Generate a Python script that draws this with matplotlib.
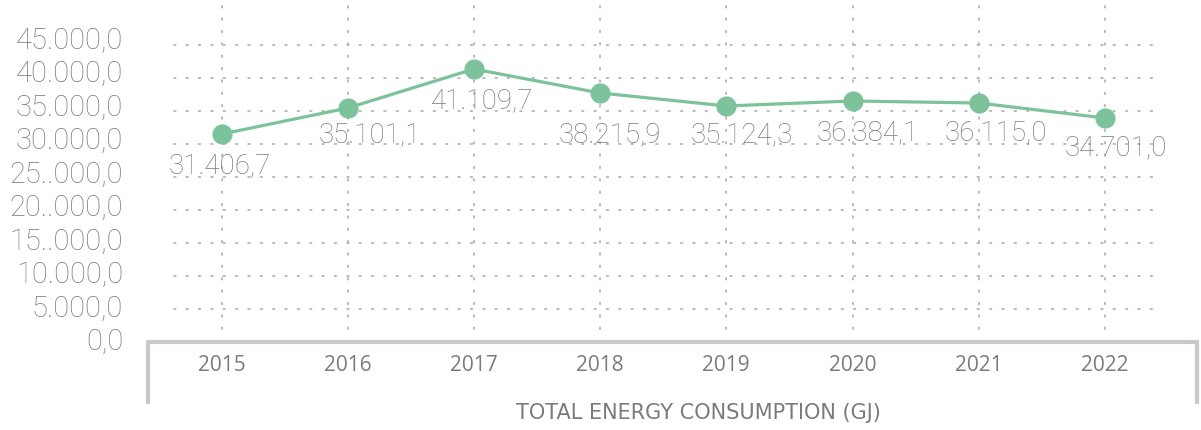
import matplotlib
matplotlib.use("Agg")
import matplotlib.pyplot as plt

# ---- data ----
years = ["2015", "2016", "2017", "2018", "2019", "2020", "2021", "2022"]
# values as drawn by the markers in the picture
values = [31500, 35450, 41360, 37730, 35760, 36520, 36210, 33940]
# value labels as printed in the picture
value_labels = ["31.406,7", "35.101,1", "41.109,7", "38.215,9", "35.124,3",
                "36.384,1", "36.115,0", "34.701,0"]
ytick_values = [0, 5000, 10000, 15000, 20000, 25000, 30000, 35000, 40000, 45000]
ytick_labels = ["0,0", "5.000,0", "10.000,0", "15..000,0", "20..000,0",
                "25..000,0", "30.000,0", "35.000,0", "40.000,0", "45.000,0"]
grid_values = [5000, 10000, 15000, 20000, 25000, 30000, 35000, 40000, 45000]
title = "TOTAL ENERGY CONSUMPTION (GJ)"

# ---- style ----
W, H = 1201, 431
DPI = 100
GREEN = "#7cc29b"
TEXT = "#7b7b7b"
GRID = "#b4b4b4"
FRAME = "#cbc8c8"
LABEL_FONT = ["Roboto", "DejaVu Sans"]
LABEL_WEIGHT = "light"

# label offsets (pixels) relative to each point
label_dx = [-1.5, 22, 8, 10, 15, 15.5, 17, 11]
label_dy = [-38, -33, -38, -48, -35, -38, -36, -36]

fig = plt.figure(figsize=(W / DPI, H / DPI), dpi=DPI)

# main axes: px x 146..1199, y 0..343 (from top)
left_px, right_px, top_px, bottom_px = 146, 1199, 0, 343
ax = fig.add_axes([left_px / W, 1 - bottom_px / H,
                   (right_px - left_px) / W, (bottom_px - top_px) / H])
step = 126.2
xmin = -(221.5 - left_px) / step
xmax = xmin + (right_px - left_px) / step
ymax = 45000 * (bottom_px - top_px) / 297.0
ax.set_xlim(xmin, xmax)
ax.set_ylim(0, ymax)
for s in ax.spines.values():
    s.set_visible(False)
ax.set_yticks([])

# dotted grid
lw = 1.3
dash = (0.9, 8.9 / lw - 0.9)
gx0 = (174 - 221.5) / step
gx1 = (1160 - 221.5) / step
for g in grid_values:
    ax.plot([gx0, gx1], [g, g], color=GRID, lw=lw, dashes=dash,
            dash_capstyle="round", zorder=1)
vy0 = 45000 * (343 - 336) / 297.0
vy1 = 45000 * (343 - 7) / 297.0
for i in range(len(years)):
    ax.plot([i, i], [vy1, vy0], color=GRID, lw=lw, dashes=dash,
            dash_capstyle="round", zorder=1)

# frame
fy = -45000 * (403 - 343) / 297.0
ax.plot([xmin + 0.015, xmin + 0.015, xmax - 0.015, xmax - 0.015],
        [fy, 0, 0, fy], color=FRAME, lw=3, clip_on=False,
        solid_joinstyle="miter", zorder=2)

# line + markers
xs = list(range(len(years)))
ax.plot(xs, values, color=GREEN, lw=2.3, marker="o", markersize=14.5,
        markeredgewidth=0, zorder=3)

for i, (v, lab) in enumerate(zip(values, value_labels)):
    ax.annotate(lab, (i, v), xytext=(label_dx[i], label_dy[i]),
                textcoords="offset pixels", ha="center", va="baseline",
                fontsize=20, color=TEXT, family=LABEL_FONT,
                fontweight=LABEL_WEIGHT, zorder=4)

# x tick labels (years)
ax.set_xticks(xs)
ax.set_xticklabels(years, fontsize=15, color=TEXT, family=["Open Sans", "DejaVu Sans"])
ax.tick_params(axis="x", length=0, pad=9)

# y labels on their own scale
ay = fig.add_axes(ax.get_position())
ay.set_ylim(-598, 50680)
ay.set_xlim(0, 1)
ay.patch.set_visible(False)
for s in ay.spines.values():
    s.set_visible(False)
ay.set_xticks([])
ay.set_yticks(ytick_values)
ay.set_yticklabels(ytick_labels, fontsize=21, color=TEXT, family=LABEL_FONT,
                   fontweight=LABEL_WEIGHT)
ay.tick_params(axis="y", length=0, pad=16.5)

fig.text(698 / W, 1 - 413 / H, title, ha="center", va="center",
         fontsize=15, color=TEXT,
         family=["Liberation Sans Narrow", "DejaVu Sans"])

fig.savefig("out.png", dpi=DPI)
